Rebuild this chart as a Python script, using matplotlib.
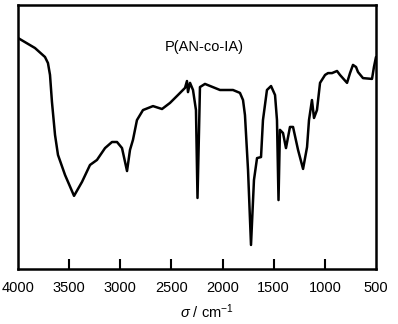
import matplotlib

matplotlib.use("Agg")

import matplotlib.pyplot as plt  # noqa: E402

plt.rcParams["font.family"] = ["Liberation Sans", "DejaVu Sans"]
plt.rcParams["mathtext.fontset"] = "custom"
plt.rcParams["mathtext.rm"] = "Liberation Sans"
plt.rcParams["mathtext.it"] = "Liberation Sans:italic"

# FTIR spectrum of P(AN-co-IA): wavenumber (cm-1) vs transmittance (a.u.)
wavenumber = [
    4000, 3834, 3736, 3707, 3687, 3668, 3638, 3609, 3540, 3452,
    3374, 3296, 3228, 3149, 3081, 3032, 2983, 2934, 2905, 2876,
    2837, 2778, 2680, 2592, 2514, 2436, 2367, 2348, 2338, 2318,
    2289, 2260, 2245, 2230, 2221, 2172, 2025, 1898, 1830, 1800,
    1781, 1751, 1722, 1693, 1663, 1624, 1605, 1566, 1526, 1487,
    1468, 1453, 1439, 1409, 1380, 1341, 1311, 1262, 1213, 1174,
    1155, 1126, 1106, 1077, 1047, 998, 969, 930, 881, 852,
    783, 754, 725, 695, 676, 627, 539, 520, 500,
]
transmittance = [
    87.5, 83.7, 80.3, 78.0, 73.5, 63.3, 50.8, 43.2, 35.6, 27.7,
    33.0, 39.4, 41.3, 45.8, 48.1, 48.1, 45.8, 37.1, 45.1, 48.9,
    56.4, 60.2, 61.7, 60.6, 62.9, 65.9, 68.6, 71.2, 67.0, 70.5,
    67.8, 60.2, 26.9, 52.7, 68.9, 70.1, 67.8, 67.8, 66.7, 64.0,
    58.3, 37.5, 9.1, 33.7, 42.0, 42.4, 56.4, 67.8, 69.3, 65.9,
    56.4, 26.1, 52.7, 51.5, 45.8, 53.8, 53.8, 45.1, 37.9, 46.2,
    56.4, 64.0, 57.2, 60.2, 70.5, 73.5, 74.2, 74.2, 75.0, 73.5,
    70.5, 74.2, 77.3, 76.5, 74.6, 72.3, 72.0, 76.5, 80.3,
]
tick_positions = [3500, 3000, 2500, 2000, 1500, 1000]
tick_labels = ["4000", "3500", "3000", "2500", "2000", "1500", "1000", "500"]

fig = plt.figure(figsize=(3.98, 3.24), dpi=100)
ax = fig.add_axes([0.0452, 0.1698, 0.8995, 0.8148])

ax.plot(wavenumber, transmittance, color="black", linewidth=1.8,
        solid_joinstyle="round", solid_capstyle="round")

ax.set_xlim(4000, 500)
ax.set_ylim(0, 100)

ax.set_xticks(tick_positions)
ax.set_xticklabels([])
ax.tick_params(axis="x", direction="in", length=7, width=1.5)
ax.set_yticks([])
for value, label in zip(range(4000, 499, -500), tick_labels):
    ax.text(value, -4.5, label, ha="center", va="top", fontsize=10.5,
            transform=ax.transData)

for spine in ax.spines.values():
    spine.set_linewidth(1.8)

ax.set_xlabel(r"$\it{\sigma}$ / cm$^{-1}$", fontsize=10.5, labelpad=0)
ax.xaxis.set_label_coords(0.528, -0.125)

ax.text(0.52, 0.84, "P(AN-co-IA)", transform=ax.transAxes,
        ha="center", va="center", fontsize=10.5)

fig.savefig("out.png", dpi=100)
